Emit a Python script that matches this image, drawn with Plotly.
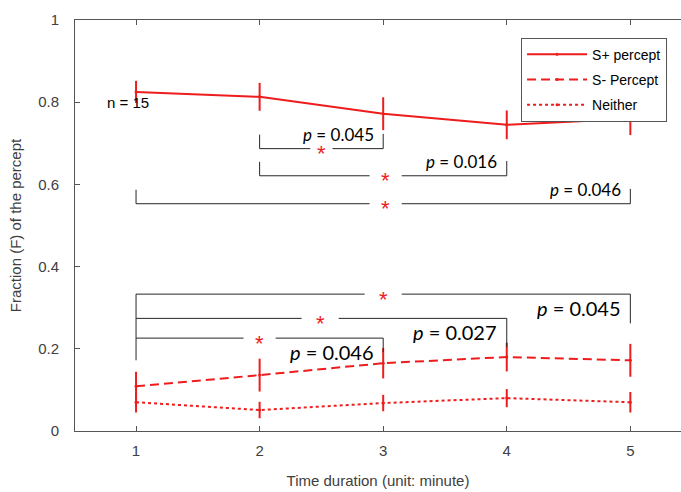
import plotly.graph_objects as go

# ---- data ----
time_min = [1, 2, 3, 4, 5]
s_plus = [0.825, 0.813, 0.772, 0.745, 0.760]
s_plus_err = [0.027, 0.034, 0.040, 0.035, 0.040]
s_minus = [0.109, 0.136, 0.165, 0.180, 0.172]
s_minus_err = [0.035, 0.040, 0.037, 0.035, 0.040]
neither = [0.070, 0.051, 0.068, 0.080, 0.070]
neither_err = [0.025, 0.020, 0.020, 0.022, 0.025]

# significance brackets (S+ group): pairs, bracket level, p values
up_pairs = [(2, 3), (2, 4), (1, 5)]
up_levels = [0.687, 0.621, 0.553]
up_pvals = ["0.045", "0.016", "0.046"]
# significance brackets (S- group)
lo_pairs = [(1, 5), (1, 4), (1, 3)]
lo_levels = [0.333, 0.274, 0.226]
lo_ends = [0.262, 0.204, 0.192]
lo_pvals = ["0.045", "0.027", "0.046"]

RED = "#ee1c1c"
BLK = "#262626"

fig = go.Figure()


def add_series(y, err, name, dash):
    fig.add_trace(go.Scatter(
        x=time_min, y=y, name=name, mode="lines+markers",
        line=dict(color=RED, width=2, dash=dash),
        marker=dict(color=RED, size=3),
        error_y=dict(type="data", array=err, visible=True, color=RED,
                     thickness=2, width=0),
        legendgroup=name,
    ))


add_series(s_plus, s_plus_err, "S+ percept", "solid")
add_series(s_minus, s_minus_err, "S- Percept", "9px,5px")
add_series(neither, neither_err, "Neither", "dot")

shapes = []
annos = []


def seg(x0, y0, x1, y1):
    shapes.append(dict(type="line", xref="x", yref="y", x0=x0, y0=y0,
                       x1=x1, y1=y1, line=dict(color=BLK, width=1)))


def star(x, y):
    annos.append(dict(x=x, y=y, xref="x", yref="y", text="*", showarrow=False,
                      font=dict(color=RED, size=22, family="Liberation Sans"),
                      yanchor="middle", xanchor="center", yshift=-5))


def ptext(x, y, p, size):
    annos.append(dict(x=x, y=y, xref="x", yref="y",
                      text="<i>p</i> = " + p, showarrow=False,
                      font=dict(color="black", size=size, family="Lato"),
                      xanchor="right", yanchor="middle"))


# upper brackets: ends rise
for (a, b), lev, p in zip(up_pairs, up_levels, up_pvals):
    mid = (a + b) / 2 if (a, b) == (2, 3) else 3.02
    half = 0.09 if (a, b) == (2, 3) else 0.13
    seg(a, lev + 0.034, a, lev)
    seg(a, lev, mid - half, lev)
    seg(mid + half, lev, b, lev)
    seg(b, lev, b, lev + 0.036)
    star(mid, lev)
    ptext(b - 0.06, lev + 0.034, p, 17)

# lower brackets
seg(1, lo_levels[0], 1, 0.172)
lo_star = [3.0, 2.49, 2.0]
lo_half = [0.15, 0.15, 0.13]
for (a, b), lev, end, p, sx, hh in zip(lo_pairs, lo_levels, lo_ends, lo_pvals,
                                      lo_star, lo_half):
    seg(a, lev, sx - hh, lev)
    seg(sx + hh, lev, b, lev)
    seg(b, lev, b, end)
    star(sx, lev)
    ptext(b - 0.06, lev - 0.034, p, 20)

annos.append(dict(x=0.745, y=0.80, xref="x", yref="y", text="n = 15",
                  showarrow=False, xanchor="left", yanchor="middle",
                  font=dict(color="black", size=15, family="Liberation Sans")))

fig.update_layout(
    width=681, height=492,
    margin=dict(l=75, r=0, t=20, b=61, autoexpand=False),
    paper_bgcolor="white", plot_bgcolor="white",
    font=dict(family="Liberation Sans", color=BLK),
    shapes=shapes, annotations=annos,
    showlegend=True,
    legend=dict(x=0.977, y=0.957, xanchor="right", yanchor="top",
                bordercolor="#555555", borderwidth=1, bgcolor="white",
                font=dict(size=14, color="black", family="Liberation Sans"),
                tracegroupgap=4, itemwidth=60),
    xaxis=dict(range=[0.506, 5.41], tickvals=time_min,
               ticktext=[str(t) for t in time_min], automargin=False,
               ticks="inside", ticklen=5, tickcolor="#555555",
               showline=True, linecolor="#555555", linewidth=1,
               mirror="ticks", showgrid=False, zeroline=False,
               tickfont=dict(size=15, color="#404040"),
               ticklabelstandoff=6,
               title=dict(text="Time duration (unit: minute)",
                          font=dict(size=15, color="#404040"), standoff=17)),
    yaxis=dict(range=[0, 1], tickvals=[0, 0.2, 0.4, 0.6, 0.8, 1],
               ticktext=["0", "0.2", "0.4", "0.6", "0.8", "1"],
               automargin=False,
               ticks="inside", ticklen=5, tickcolor="#555555",
               showline=True, linecolor="#555555", linewidth=1,
               showgrid=False, zeroline=False,
               tickfont=dict(size=15, color="#404040"),
               ticklabelstandoff=12,
               title=dict(text="Fraction (F) of the percept",
                          font=dict(size=15, color="#404040"), standoff=12)),
)

fig.write_html(
    "out.html",
    config={"displayModeBar": False},
    post_script="document.body.style.margin='0';"
                "document.body.style.overflow='hidden';",
)
